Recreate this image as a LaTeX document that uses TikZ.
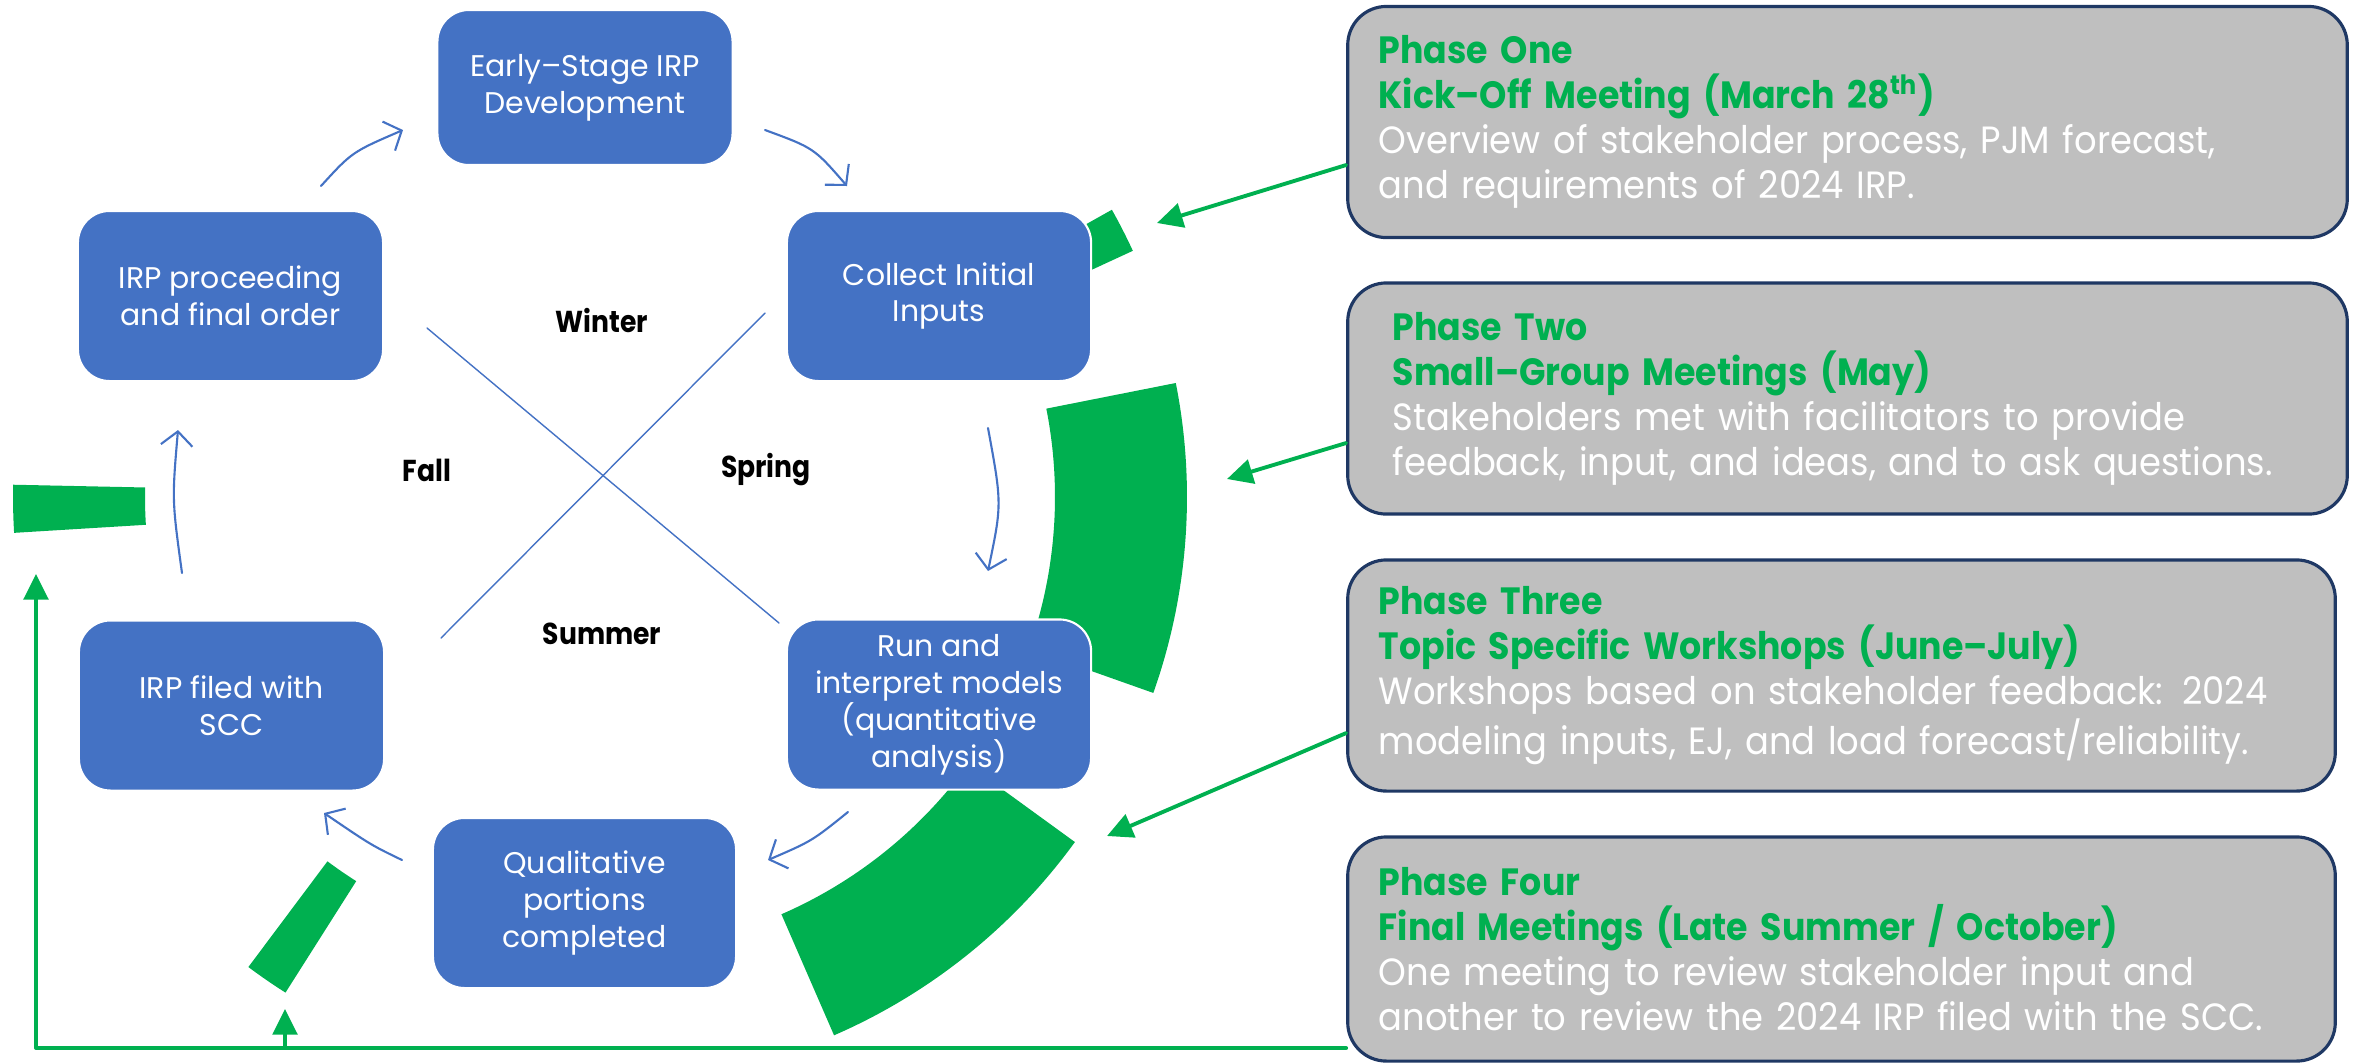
\documentclass[tikz,border=0pt]{standalone}
\usepackage{fontspec}
\setmainfont{Poppins}[BoldFeatures={FakeStretch=0.88}]
\newfontfamily\phasefont{Poppins}[UprightFeatures={FakeStretch=0.93},BoldFeatures={FakeStretch=0.915}]
\usetikzlibrary{arrows,arrows.meta}
\definecolor{boxblue}{RGB}{68,114,196}
\definecolor{phasegreen}{RGB}{0,176,80}
\definecolor{phasegray}{RGB}{191,191,191}
\definecolor{phaseedge}{RGB}{31,56,100}
\newcommand{\phasehead}[1]{\textcolor{phasegreen}{\bfseries #1}}

\begin{document}
\begin{tikzpicture}[line cap=round,line join=round,>={Triangle[length=7.3pt,width=7pt]},x=0.01cm,y=-0.01cm,
  stage/.style={rectangle,rounded corners=9pt,fill=boxblue,draw=white,line width=0.6pt,text=white,align=center,
    minimum width=3.04cm,minimum height=1.7cm,inner sep=0pt,font=\fontsize{8.5}{10.5}\selectfont},
  phase/.style={rectangle,rounded corners=11pt,fill=phasegray,draw=phaseedge,line width=0.9pt,text=white,align=left,
    minimum height=2.31cm,inner xsep=0.31cm,font=\phasefont\fontsize{10.8}{12.8}\selectfont},
  season/.style={text=black,font=\bfseries\fontsize{8.6}{10}\selectfont},
  cross/.style={boxblue,line width=0.4pt},
  cyc/.style={boxblue,line width=0.6pt,-{Straight Barb[length=4pt,width=9pt]}},
  grn/.style={phasegreen,line width=1.1pt}]
\useasboundingbox (0,0) rectangle (2354,1063);
% green ring pieces
\begin{scope}[shift={(600,497)}]
\foreach \a/\b in {-29.3/-24.8,-11.2/19.5,36/66.5,122.4/126.8,176.5/181.2}
  \fill[phasegreen] (\a:455) arc[start angle=\a,end angle=\b,radius=455] -- (\b:587)
    arc[start angle=\b,end angle=\a,radius=587] -- cycle;
\end{scope}
% seasons
\draw[cross] (427,328) -- (779,623);
\draw[cross] (765,313) -- (441,638);
\node[season] (winter) at (602,320) {Winter};
\node[season] (fall) at (427,470) {Fall};
\node[season] (spring) at (766,470) {Spring};
\node[season] (summer) at (602,634) {Summer};
% cycle
\node[stage,minimum width=2.95cm,minimum height=1.55cm] (early) at (585,87.5) {Early–Stage IRP\\Development};
\node[stage] (collect) at (939,296) {Collect Initial\\Inputs};
\node[stage] (runmod) at (939,704.5) {Run and\\interpret models\\(quantitative\\analysis)};
\node[stage,minimum width=3.03cm] (qual) at (584.5,903) {Qualitative\\portions\\completed};
\node[stage,minimum width=3.05cm] (irpscc) at (231.5,705.5) {IRP filed with\\SCC};
\node[stage,minimum width=3.05cm] (irpord) at (230.5,296) {IRP proceeding\\and final order};
\coordinate (c1) at (321,186);
\coordinate (c2) at (403,130);
\coordinate (c3) at (765,130);
\coordinate (c4) at (847,186);
\coordinate (c5) at (988,428);
\coordinate (c6) at (988,571);
\coordinate (c7) at (848,812);
\coordinate (c8) at (768,860);
\coordinate (c9) at (402,860);
\coordinate (c10) at (324,813);
\coordinate (c11) at (182,573);
\coordinate (c12) at (178,430);
\draw[cyc] (c1) .. controls (352,152) .. (c2);
\draw[cyc] (c3) .. controls (814,148) .. (c4);
\draw[cyc] (c5) .. controls (1002,504) .. (c6);
\draw[cyc] (c7) .. controls (812,841) .. (c8);
\draw[cyc] (c9) .. controls (371,845) .. (c10);
\draw[cyc] (c11) .. controls (172,500) .. (c12);
% phases
\node[phase,text width=9.37cm] (p1) at (1847.5,122) {\phasehead{Phase One}\\\phasehead{Kick–Off Meeting (March 28\textsuperscript{th})}\\Overview of stakeholder process, PJM forecast,\\and requirements of 2024 IRP.};
\node[phase,inner xsep=0.45cm,text width=9.09cm] (p2) at (1847.5,398.5) {\phasehead{Phase Two}\\\phasehead{Small–Group Meetings (May)}\\Stakeholders met with facilitators to provide\\feedback, input, and ideas, and to ask questions.};
\node[phase,text width=9.25cm] (p3) at (1841.5,675.5) {\phasehead{Phase Three}\\\phasehead{Topic Specific Workshops (June–July)}\\Workshops based on stakeholder feedback: 2024\\modeling inputs, EJ, and load forecast/reliability.};
\node[phase,text width=9.25cm,minimum height=2.24cm] (p4) at (1841.5,949) {\phasehead{Phase Four}\\\phasehead{Final Meetings (Late Summer / October)}\\One meeting to review stakeholder input and\\another to review the 2024 IRP filed with the SCC.};
\coordinate (t1) at (1157,223);
\coordinate (t2) at (1227,479);
\coordinate (t3) at (1107,836);
\coordinate (t4) at (36,574);
\coordinate (b5) at (285,1048);
\coordinate (t5) at (285,1009);
\draw[grn,->] ([yshift=-0.43cm]p1.west) -- (t1);
\draw[grn,->] ([yshift=-0.445cm]p2.west) -- (t2);
\draw[grn,->] ([yshift=-0.575cm]p3.west) -- (t3);
\draw[grn,->] ([yshift=-0.99cm]p4.west) -| (t4);
\draw[grn,->] (b5) -- (t5);
\end{tikzpicture}
\end{document}
